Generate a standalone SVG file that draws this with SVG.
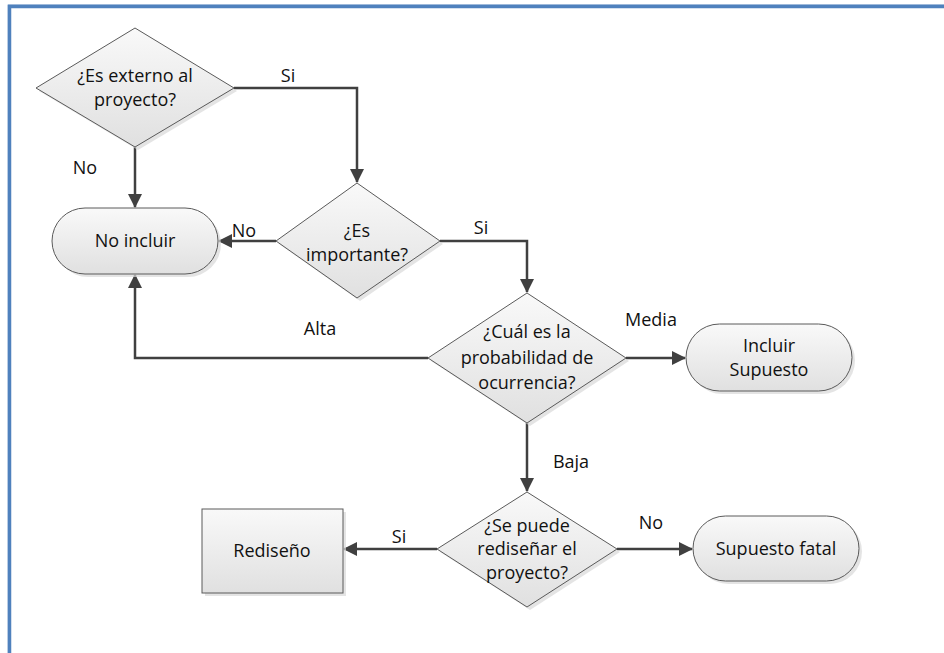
<svg xmlns="http://www.w3.org/2000/svg" width="944" height="653" viewBox="0 0 944 653">
  <defs>
    <linearGradient id="shapeFill" x1="0" y1="0" x2="0" y2="1">
      <stop offset="0" stop-color="#f9f9f9"/>
      <stop offset="1" stop-color="#e0e0e0"/>
    </linearGradient>
    <marker id="arrow" viewBox="0 0 14 14" refX="13" refY="7" markerWidth="14" markerHeight="14" markerUnits="userSpaceOnUse" orient="auto">
      <path d="M0,0 L14,7 L0,14 Z" fill="#404040"/>
    </marker>
    <style>
      .shape { fill: url(#shapeFill); stroke: #5a5a5a; stroke-width: 1; }
      .shadow { fill: #d9d9d9; opacity: 0.7; }
      .txt { font-family: "Open Sans", "Liberation Sans", sans-serif; font-size: 18px; fill: #111111; text-anchor: middle; }
      .lbl { font-family: "Open Sans", "Liberation Sans", sans-serif; font-size: 18px; fill: #111111; text-anchor: middle; }
      .conn { fill: none; stroke: #404040; stroke-width: 2.5; }
    </style>
  </defs>

  <rect width="944" height="653" fill="#ffffff"/>

  <!-- page frame -->
  <path d="M8,653 V4.5 H944" fill="none" stroke="#b9cde5" stroke-width="1"/>
  <path d="M9.5,653 V6.5 H944" fill="none" stroke="#4f81bd" stroke-width="3.5"/>

  <!-- connectors -->
  <g id="connectors">
    <path class="conn" d="M234,88 H357 V182" marker-end="url(#arrow)"/>
    <path class="conn" d="M135,147 V207" marker-end="url(#arrow)"/>
    <path class="conn" d="M276,241 H219" marker-end="url(#arrow)"/>
    <path class="conn" d="M440,241 H527 V292" marker-end="url(#arrow)"/>
    <path class="conn" d="M428,358 H135 V275" marker-end="url(#arrow)"/>
    <path class="conn" d="M626,358 H685" marker-end="url(#arrow)"/>
    <path class="conn" d="M527,423 V491" marker-end="url(#arrow)"/>
    <path class="conn" d="M437,549 H344" marker-end="url(#arrow)"/>
    <path class="conn" d="M617,549 H692" marker-end="url(#arrow)"/>

    <text class="lbl" x="288" y="82">Si</text>
    <text class="lbl" x="85" y="174">No</text>
    <text class="lbl" x="244" y="237">No</text>
    <text class="lbl" x="481" y="234">Si</text>
    <text class="lbl" x="320" y="335">Alta</text>
    <text class="lbl" x="651" y="326">Media</text>
    <text class="lbl" x="571" y="468">Baja</text>
    <text class="lbl" x="399" y="543">Si</text>
    <text class="lbl" x="651" y="529">No</text>
  </g>

  <g id="externo">
    <polygon class="shadow" points="138,31 237,91 138,150 39,91"/>
    <polygon class="shape" points="135,28 234,88 135,147 36,88"/>
    <text class="txt" x="135" y="82">¿Es externo al</text>
    <text class="txt" x="135" y="106">proyecto?</text>
  </g>

  <g id="importante">
    <polygon class="shadow" points="360,186 443,244 360,301 279,244"/>
    <polygon class="shape" points="357,183 440,241 357,298 276,241"/>
    <text class="txt" x="357" y="237">¿Es</text>
    <text class="txt" x="357" y="261">importante?</text>
  </g>

  <g id="no-incluir">
    <rect class="shadow" x="55" y="211" width="166" height="66" rx="33"/>
    <rect class="shape" x="52" y="208" width="166" height="66" rx="33"/>
    <text class="txt" x="135" y="247">No incluir</text>
  </g>

  <g id="probabilidad">
    <polygon class="shadow" points="530,296 629,361 530,426 431,361"/>
    <polygon class="shape" points="527,293 626,358 527,423 428,358"/>
    <text class="txt" x="527" y="338">¿Cuál es la</text>
    <text class="txt" x="527" y="364">probabilidad de</text>
    <text class="txt" x="527" y="389">ocurrencia?</text>
  </g>

  <g id="incluir-supuesto">
    <rect class="shadow" x="689" y="327" width="166" height="67" rx="33.5"/>
    <rect class="shape" x="686" y="324" width="166" height="67" rx="33.5"/>
    <text class="txt" x="769" y="352">Incluir</text>
    <text class="txt" x="769" y="376">Supuesto</text>
  </g>

  <g id="redisenar">
    <polygon class="shadow" points="530,495 620,552 530,610 440,552"/>
    <polygon class="shape" points="527,492 617,549 527,607 437,549"/>
    <text class="txt" x="527" y="532">¿Se puede</text>
    <text class="txt" x="527" y="555">rediseñar el</text>
    <text class="txt" x="527" y="579">proyecto?</text>
  </g>

  <g id="rediseno">
    <rect class="shadow" x="205" y="512" width="141" height="84"/>
    <rect class="shape" x="202" y="509" width="141" height="84"/>
    <text class="txt" x="272" y="557">Rediseño</text>
  </g>

  <g id="supuesto-fatal">
    <rect class="shadow" x="696" y="519" width="166" height="65" rx="32.5"/>
    <rect class="shape" x="693" y="516" width="166" height="65" rx="32.5"/>
    <text class="txt" x="776" y="555">Supuesto fatal</text>
  </g>
</svg>
